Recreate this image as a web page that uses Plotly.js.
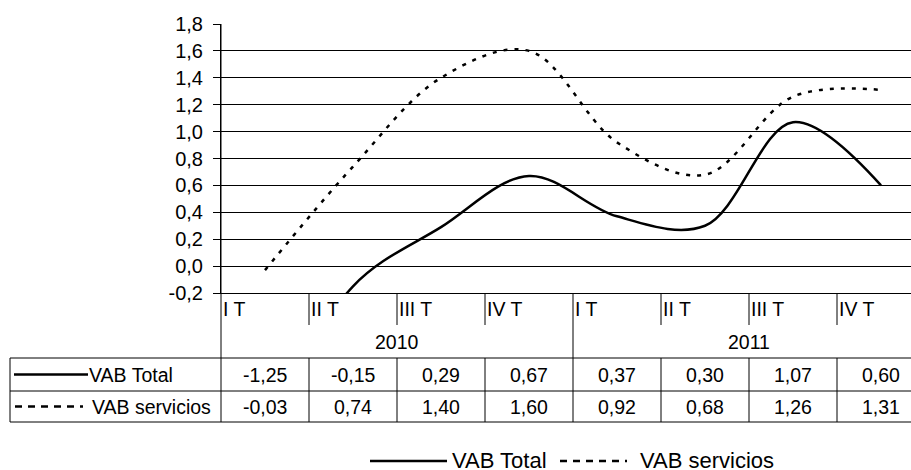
<!DOCTYPE html>
<html>
<head>
<meta charset="utf-8">
<script src="https://cdn.plot.ly/plotly-3.0.1.min.js"></script>
<style>
html,body{margin:0;padding:0;background:#fff;overflow:hidden;}
#chart{width:911px;height:470px;}
</style>
</head>
<body>
<div id="chart"></div>
<script>
// ---- data ----
var quarters = ['I T','II T','III T','IV T','I T','II T','III T','IV T'];
var years = ['2010','2011'];
var seriesNames = ['VAB Total','VAB servicios'];
var vabTotal = [-1.25, -0.15, 0.29, 0.67, 0.37, 0.30, 1.07, 0.60];
var vabServicios = [-0.03, 0.74, 1.40, 1.60, 0.92, 0.68, 1.26, 1.31];
var yTickVals = [-0.2, 0, 0.2, 0.4, 0.6, 0.8, 1.0, 1.2, 1.4, 1.6, 1.8];
var yTickText = ['-0,2','0,0','0,2','0,4','0,6','0,8','1,0','1,2','1,4','1,6','1,8'];

// ---- geometry helpers (pixel -> paper) ----
var L = 221, T = 24, W = 690, H = 269;
function px(x){ return (x - L) / W; }
function py(y){ return (T + H - y) / H; }

var FONT = 'Liberation Sans, Arial, sans-serif';
var FS = 19.5;
var idx = quarters.map(function(_, i){ return i; });

var traces = [
  {x: idx, y: vabTotal, name: seriesNames[0], mode: 'lines',
   line: {color: '#000', width: 2.5, shape: 'spline', smoothing: 1}, hoverinfo: 'skip'},
  {x: idx, y: vabServicios, name: seriesNames[1], mode: 'lines',
   line: {color: '#000', width: 2.5, shape: 'spline', smoothing: 1, dash: '4px,7px'}, hoverinfo: 'skip'}
];

var shapes = [];
var ann = [];
function hline(x0, x1, y, extra){
  var s = {type:'line', xref:'paper', yref:'paper', x0:px(x0), x1:px(x1), y0:py(y), y1:py(y),
           line:{color:'#000', width:1}};
  if (extra) for (var k in extra) s.line[k] = extra[k];
  shapes.push(s);
}
// table horizontal lines
[358, 391, 422].forEach(function(y){ hline(10, 911, y); });
// table left border
shapes.push({type:'line', xref:'paper', yref:'paper', x0:px(10), x1:px(10), y0:py(358), y1:py(422), line:{color:'#000', width:1}});
// y axis extended down through the table
shapes.push({type:'line', xref:'paper', yref:'paper', x0:0, x1:0, y0:1, y1:py(422), line:{color:'#000', width:1}});
// category boundaries
for (var k = 1; k < quarters.length; k++) {
  var bottom = (k === 4) ? 422 : 325;
  shapes.push({type:'line', xref:'x', yref:'paper', x0:k-0.5, x1:k-0.5, y0:py(293), y1:py(bottom), line:{color:'#000', width:1}});
  if (k !== 4) shapes.push({type:'line', xref:'x', yref:'paper', x0:k-0.5, x1:k-0.5, y0:py(358), y1:py(422), line:{color:'#000', width:1}});
}
// quarter labels
quarters.forEach(function(q, i){
  ann.push({xref:'x', yref:'paper', x:i-0.5, y:py(309), xanchor:'left', yanchor:'middle', xshift:0,
            text:q, showarrow:false, font:{family:FONT, size:FS, color:'#000'}});
});
// year labels
years.forEach(function(yr, j){
  ann.push({xref:'x', yref:'paper', x:j*4+1.5, y:py(341.5), xanchor:'center', yanchor:'middle',
            text:yr, showarrow:false, font:{family:FONT, size:FS, color:'#000'}});
});
// table values
function fmt(v){ return v.toFixed(2).replace('.', ','); }
[vabTotal, vabServicios].forEach(function(arr, r){
  var yc = r === 0 ? 374.5 : 406.5;
  arr.forEach(function(v, i){
    ann.push({xref:'x', yref:'paper', x:i, y:py(yc), xanchor:'center', yanchor:'middle',
              text:fmt(v), showarrow:false, font:{family:FONT, size:FS, color:'#000'}});
  });
});
// table row labels with line samples
hline(14, 88, 374.5, {width:2.5});
hline(15, 83, 406.5, {width:2.5, dash:'7px,6px'});
ann.push({xref:'paper', yref:'paper', x:px(87), y:py(374.5), xanchor:'left', yanchor:'middle', text:seriesNames[0], showarrow:false, font:{family:FONT, size:FS, color:'#000'}});
ann.push({xref:'paper', yref:'paper', x:px(90), y:py(406.5), xanchor:'left', yanchor:'middle', text:seriesNames[1], showarrow:false, font:{family:FONT, size:FS, color:'#000'}});
// bottom legend
hline(370, 447, 461, {width:2.5});
hline(560, 627, 461, {width:2.5, dash:'7px,6px'});
ann.push({xref:'paper', yref:'paper', x:px(450), y:py(460.5), xanchor:'left', yanchor:'middle', text:seriesNames[0], showarrow:false, font:{family:FONT, size:22, color:'#000'}});
ann.push({xref:'paper', yref:'paper', x:px(638), y:py(460.5), xanchor:'left', yanchor:'middle', text:seriesNames[1], showarrow:false, font:{family:FONT, size:22, color:'#000'}});

var layout = {
  width: 911, height: 470,
  margin: {l: L, r: 0, t: T, b: 470 - T - H, pad: 0},
  paper_bgcolor: '#fff', plot_bgcolor: '#fff',
  showlegend: false,
  font: {family: FONT, color: '#000'},
  xaxis: {range: [-0.5, -0.5 + W / 88], showgrid: false, zeroline: false, showline: true,
          linecolor: '#000', linewidth: 1, showticklabels: false, ticks: '', fixedrange: true},
  yaxis: {range: [-0.2, 1.8], tickmode: 'array', tickvals: yTickVals, ticktext: yTickText, showgrid: true,
          gridcolor: '#000', gridwidth: 1, zeroline: false, showline: true, linecolor: '#000', linewidth: 1,
          ticks: 'outside', ticklen: 7, tickcolor: '#000', tickwidth: 1, ticklabelstandoff: 6,
          tickfont: {family: FONT, size: 20, color: '#000'}, fixedrange: true},
  shapes: shapes,
  annotations: ann
};

Plotly.newPlot('chart', traces, layout, {staticPlot: true, displayModeBar: false});
</script>
</body>
</html>
